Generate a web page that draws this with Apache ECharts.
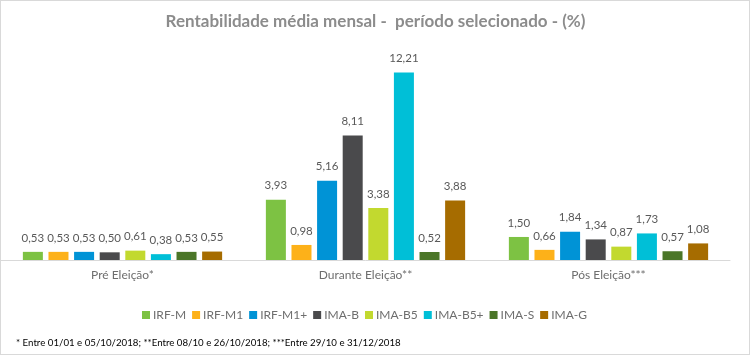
<!DOCTYPE html>
<html><head><meta charset="utf-8">
<script src="https://cdn.jsdelivr.net/npm/echarts@6/dist/echarts.min.js"></script>
<style>html,body{margin:0;padding:0;background:#fff}#c{width:751px;height:357px}
#frame{position:absolute;left:0;top:0;width:748px;height:353px;border:1px solid #d9d9d9;pointer-events:none}</style>
</head><body><div id="c"></div><div id="frame"></div>
<script>
const categories = ['Pré Eleição*', 'Durante Eleição**', 'Pós Eleição***'];
const seriesNames = ['IRF-M', 'IRF-M1', 'IRF-M1+', 'IMA-B', 'IMA-B5', 'IMA-B5+', 'IMA-S', 'IMA-G'];
const irfM    = [0.53, 3.93, 1.50];
const irfM1   = [0.53, 0.98, 0.66];
const irfM1p  = [0.53, 5.16, 1.84];
const imaB    = [0.50, 8.11, 1.34];
const imaB5   = [0.61, 3.38, 0.87];
const imaB5p  = [0.38, 12.21, 1.73];
const imaS    = [0.53, 0.52, 0.57];
const imaG    = [0.55, 3.88, 1.08];
const seriesValues = [irfM, irfM1, irfM1p, imaB, imaB5, imaB5p, imaS, imaG];
const colors = ['#7DC243', '#FDB119', '#0093D6', '#4A4A4C', '#C2D92F', '#00BFD7', '#4B7628', '#A66C00'];
const titleText = 'Rentabilidade média mensal -  período selecionado - (%)';
const footnote = '* Entre 01/01 e 05/10/2018; **Entre 08/10 e 26/10/2018; ***Entre 29/10 e 31/12/2018';

const FONT = 'Lato';
const chart = echarts.init(document.getElementById('c'));
chart.setOption({
  animation: false,
  color: colors,
  title: {
    text: titleText, left: 'center', top: 8,
    textStyle: {color: '#8c8c8c', fontSize: 17, fontWeight: 'bold', fontFamily: FONT}
  },
  legend: {
    data: seriesNames, top: 304, left: 137, itemWidth: 8, itemHeight: 8, itemGap: 6,
    icon: 'rect',
    textStyle: {color: '#6e6e6e', fontSize: 12, fontFamily: FONT, padding: [0, 0, 0, -2]}
  },
  graphic: [{
    type: 'text', left: 16, top: 338,
    style: {text: footnote, fill: '#000', font: '9.7px ' + FONT}
  }],
  grid: {left: 1, right: 21, top: 45, bottom: 97, containLabel: false},
  xAxis: {
    type: 'category', data: categories,
    axisLine: {lineStyle: {color: '#d9d9d9'}}, axisTick: {show: false},
    axisLabel: {color: '#6e6e6e', fontSize: 12, fontFamily: FONT, margin: 9}
  },
  yAxis: {type: 'value', min: 0, max: 14, show: false, splitLine: {show: false}},
  series: seriesNames.map((n, i) => ({
    name: n, type: 'bar', data: seriesValues[i],
    barGap: '28%', barCategoryGap: '18%',
    label: {
      show: true, position: 'top', distance: 8, color: '#595959', fontSize: 11.5, fontFamily: FONT,
      formatter: p => p.value.toFixed(2).replace('.', ',')
    }
  }))
});
</script></body></html>
